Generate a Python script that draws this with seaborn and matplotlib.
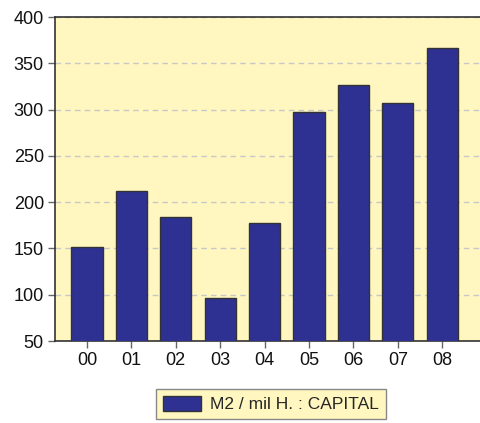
import matplotlib
matplotlib.use("Agg")
import matplotlib.pyplot as plt
import seaborn as sns
import pandas as pd
from matplotlib.patches import Patch

categories = ["00", "01", "02", "03", "04", "05", "06", "07", "08"]
values = [152, 212, 184, 96, 178, 297, 327, 307, 366]
series_name = "M2 / mil H. : CAPITAL"

df = pd.DataFrame({"cat": categories, "val": values})

sns.set_style("white")
plt.rcParams['font.family'] = ['Liberation Sans', 'DejaVu Sans']

fig = plt.figure(figsize=(4.8, 4.23), dpi=100)
ax = fig.add_axes([55/480, 1-341/423, 1 - 55/480, (341-17)/423])
bg = "#FFF7BF"
ax.set_facecolor(bg)
barc = "#2E3192"
sns.barplot(data=df, x="cat", y="val", color=barc, saturation=1, width=0.7,
            edgecolor="#333333", linewidth=1.0, ax=ax, zorder=3)
ax.set_ylim(50, 400)
ax.set_xlim(-0.72, 8.85)
ax.set_yticks(range(50, 401, 50))
ax.yaxis.grid(True, linestyle=(0, (4, 3)), color="#C8C8C8", linewidth=1.0, zorder=0)
ax.set_axisbelow(True)
ax.set_xlabel("")
ax.set_ylabel("")
for s in ["left", "top", "bottom"]:
    ax.spines[s].set_visible(True)
    ax.spines[s].set_color("#333333")
    ax.spines[s].set_linewidth(1.2)
ax.spines["right"].set_visible(False)
ax.tick_params(axis="both", direction="out", length=5, width=1, color="#666666",
               labelsize=13, labelcolor="#111111", left=True, bottom=True, pad=3)

leg = fig.legend(handles=[Patch(facecolor=barc, edgecolor="#333333", label=series_name)],
                 loc="center", bbox_to_anchor=(271/480, 1-404/423), frameon=True,
                 fontsize=12.5, fancybox=False, handlelength=2.2, handleheight=1.0,
                 borderpad=0.4, handletextpad=0.5)
leg.get_frame().set_facecolor(bg)
leg.get_frame().set_edgecolor("#888888")
leg.get_frame().set_alpha(1)

fig.savefig("out.png", dpi=100, facecolor="white")
